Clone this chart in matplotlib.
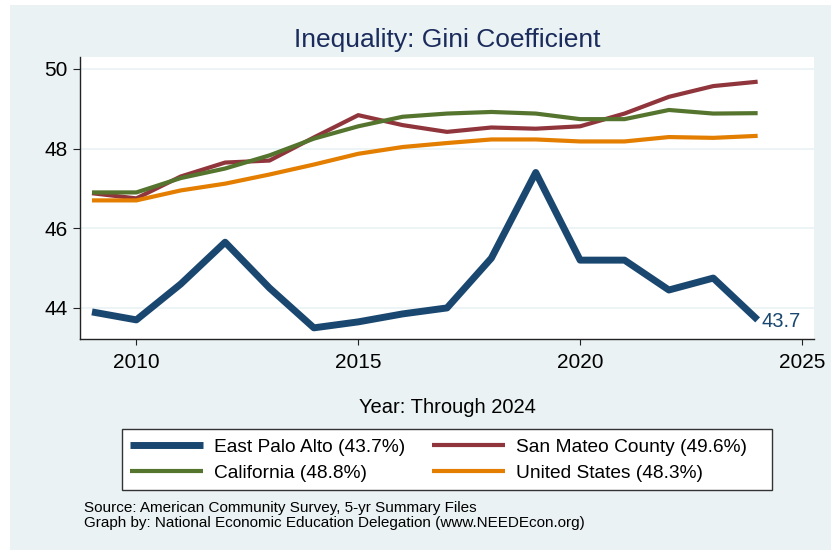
import matplotlib.pyplot as plt
from matplotlib.patches import Rectangle

plt.rcParams['font.family'] = ['Liberation Sans', 'DejaVu Sans']

years = list(range(2009, 2025))
epa = [43.9, 43.7, 44.6, 45.65, 44.5, 43.5, 43.65, 43.85, 44.0, 45.25, 47.4, 45.2, 45.2, 44.45, 44.75, 43.7]
smc = [46.88, 46.75, 47.3, 47.65, 47.7, 48.28, 48.84, 48.59, 48.42, 48.53, 48.5, 48.56, 48.88, 49.3, 49.57, 49.68]
ca = [46.9, 46.9, 47.26, 47.5, 47.83, 48.25, 48.56, 48.8, 48.88, 48.92, 48.88, 48.74, 48.74, 48.97, 48.88, 48.89]
us = [46.7, 46.7, 46.95, 47.12, 47.35, 47.6, 47.87, 48.04, 48.14, 48.23, 48.23, 48.18, 48.18, 48.29, 48.27, 48.32]

labels = ["East Palo Alto (43.7%)", "San Mateo County (49.6%)",
          "California (48.8%)", "United States (48.3%)"]
yticks = [44, 46, 48, 50]
xticks = [2010, 2015, 2020, 2025]

navy = "#1a476f"
maroon = "#90353b"
green = "#55752f"
orange = "#e37e00"
bg = "#eaf2f3"

W, H = 831, 550
fig = plt.figure(figsize=(W / 100, H / 100), dpi=100, facecolor="white")
# light stata-like background with a thin white margin
fig.patches.append(Rectangle((10 / W, 0), 1 - 10 / W, 1 - 5 / H,
                             transform=fig.transFigure, facecolor=bg,
                             edgecolor="none", zorder=-10))

ax = fig.add_axes([80 / W, 1 - 339 / H, (814 - 80) / W, (339 - 57) / H])
ax.set_facecolor("white")

l1, = ax.plot(years, epa, color=navy, lw=5.0, solid_capstyle="butt", zorder=3)
l2, = ax.plot(years, smc, color=maroon, lw=3.0, solid_capstyle="butt", zorder=4)
l3, = ax.plot(years, ca, color=green, lw=3.0, solid_capstyle="butt", zorder=5)
l4, = ax.plot(years, us, color=orange, lw=3.0, solid_capstyle="butt", zorder=6)

ax.annotate(f"{epa[-1]:.1f}", xy=(years[-1], epa[-1]), xytext=(3, -1),
            textcoords="offset points", color=navy, fontsize=14.5,
            va="center", ha="left")

ax.set_xlim(2008.73, 2025.27)
ax.set_ylim(43.22, 50.3)
ax.set_yticks(yticks)
ax.set_xticks(xticks)
ax.grid(axis="y", color=bg, lw=1.2)
ax.set_axisbelow(True)
ax.spines[["right", "top"]].set_visible(False)
for s in ["left", "bottom"]:
    ax.spines[s].set_color("#222222")
    ax.spines[s].set_linewidth(1.0)
ax.tick_params(axis="y", length=5, width=0.8, pad=4, labelsize=15, colors="#222222", labelcolor="black")
ax.tick_params(axis="x", length=4, width=0.8, pad=6, labelsize=15, colors="#222222", labelcolor="black")

fig.text(447 / W, 1 - 47 / H, "Inequality: Gini Coefficient", ha="center",
         va="baseline", fontsize=19, color="#1a2b5c")
fig.text(447 / W, 1 - 413 / H, "Year: Through 2024", ha="center",
         va="baseline", fontsize=14.5, color="black")

# legend frame drawn separately (stata pads it unevenly)
fig.patches.append(Rectangle((122 / W, 1 - 490 / H), 650 / W, 61 / H,
                             transform=fig.transFigure, facecolor="white",
                             edgecolor="#333333", lw=1.0, zorder=1))
leg = fig.legend([l1, l3, l2, l4], [labels[0], labels[2], labels[1], labels[3]],
                 ncol=2, loc="center left",
                 bbox_to_anchor=(130 / W, 1 - 460 / H),
                 fontsize=13.8, frameon=False, handlelength=3.8,
                 handletextpad=0.58, labelspacing=0.45, columnspacing=1.4,
                 borderpad=0, borderaxespad=0)
leg.set_zorder(2)
for h in leg.legend_handles:
    h.set_solid_capstyle("butt")

fig.text(84 / W, 1 - 512 / H, "Source: American Community Survey, 5-yr Summary Files",
         ha="left", va="baseline", fontsize=11)
fig.text(84 / W, 1 - 527 / H, "Graph by: National Economic Education Delegation (www.NEEDEcon.org)",
         ha="left", va="baseline", fontsize=11)

fig.savefig("out.png", dpi=100, facecolor=fig.get_facecolor())
